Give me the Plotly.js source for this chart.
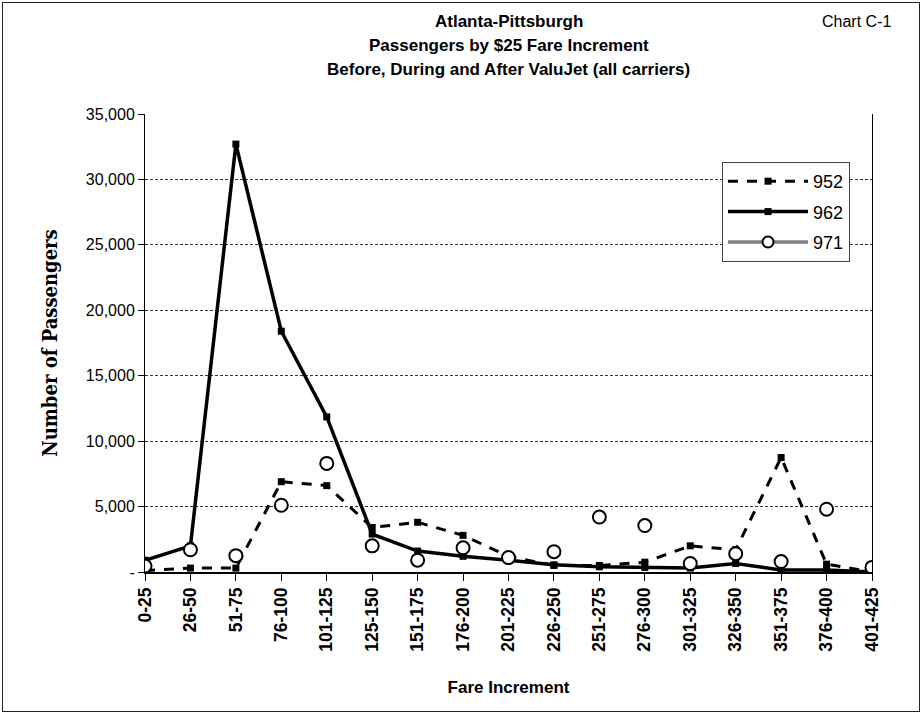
<!DOCTYPE html>
<html>
<head>
<meta charset="utf-8">
<script src="https://cdn.plot.ly/plotly-3.0.1.min.js"></script>
<style>
  html, body { margin: 0; padding: 0; background: #fff; }
  #wrap { position: relative; width: 922px; height: 714px; }
  #chart { width: 922px; height: 714px; }
  #frame { position: absolute; left: 2px; top: 2px; width: 916px; height: 708px; border: 1px solid #222; pointer-events: none; }
</style>
</head>
<body>
<div id="wrap">
  <div id="chart"></div>
  <div id="frame"></div>
</div>
<script>
// Fare increments (categories)
const categories = ["0-25","26-50","51-75","76-100","101-125","125-150","151-175","176-200","201-225","226-250","251-275","276-300","301-325","326-350","351-375","376-400","401-425"];

// Number of passengers by period
const s952 = [100, 300, 300, 6900, 6600, 3400, 3800, 2800, 1200, 500, 500, 750, 2000, 1700, 8750, 600, 0];
const s962 = [900, 2000, 32700, 18400, 11850, 2900, 1600, 1200, 900, 550, 400, 350, 300, 650, 150, 150, 0];
const s971 = [450, 1700, 1250, 5100, 8300, 2000, 900, 1850, 1100, 1550, 4200, 3550, 650, 1400, 800, 4800, 350];

// Y-axis ticks
const yTickVals = [0, 5000, 10000, 15000, 20000, 25000, 30000, 35000];
const yTickText = ["-", "5,000", "10,000", "15,000", "20,000", "25,000", "30,000", "35,000"];

// Title lines
const titleLines = ["Atlanta-Pittsburgh", "Passengers by $25 Fare Increment", "Before, During and After ValuJet (all carriers)"];

const traces = [
  {
    x: categories, y: s952, name: "952", type: "scatter", mode: "lines+markers",
    line: { color: "#000", width: 3, dash: "10px,9px" },
    marker: { symbol: "square", size: 7, color: "#000" }
  },
  {
    x: categories, y: s962, name: "962", type: "scatter", mode: "lines+markers",
    line: { color: "#000", width: 3.5 },
    marker: { symbol: "square", size: 7, color: "#000" }
  },
  {
    x: categories, y: s971, name: "971", type: "scatter", mode: "markers",
    showlegend: false, legendgroup: "g971",
    marker: { symbol: "circle", size: 13, color: "#fff", line: { color: "#000", width: 2 } }
  },
  {
    x: [null], y: [null], name: "971", type: "scatter", mode: "lines+markers",
    legendgroup: "g971", hoverinfo: "skip",
    line: { color: "#808080", width: 3.5 },
    marker: { symbol: "circle", size: 11, color: "#fff", line: { color: "#000", width: 2 } }
  }
];

const F = "Liberation Sans, Arial, sans-serif";
const titleY = [1.2009, 1.1485, 1.0961];
const annotations = titleLines.map((t, i) => ({
  text: "<b>" + t + "</b>", xref: "paper", yref: "paper", x: 0.5, y: titleY[i],
  xanchor: "center", yanchor: "middle", showarrow: false,
  font: { size: 17, family: F, color: "#000" }
}));
annotations.push({
  text: "Chart C-1", xref: "paper", yref: "paper", x: 1.0289, y: 1.2009,
  xanchor: "right", yanchor: "middle", showarrow: false,
  font: { size: 16, family: F, color: "#000" }
});

const layout = {
  width: 922, height: 714,
  paper_bgcolor: "#fff", plot_bgcolor: "#fff",
  margin: { l: 145, r: 50, t: 114, b: 142 },
  font: { family: F, color: "#000" },
  showlegend: true,
  legend: {
    x: 0.7937, xanchor: "left", y: 0.8952, yanchor: "top",
    bgcolor: "#fff", bordercolor: "#444", borderwidth: 1,
    font: { size: 18, family: F, color: "#000" },
    itemwidth: 80, tracegroupgap: 4, traceorder: "grouped"
  },
  xaxis: {
    type: "category",
    tickangle: -90,
    tickfont: { family: F, size: 17.5, color: "#000", weight: "bold" },
    ticks: "outside", ticklen: 7, tickcolor: "#000", tickwidth: 1,
    showline: true, linecolor: "#000", linewidth: 1.5,
    showgrid: false, zeroline: false,
    range: [0, 16],
    title: { text: "<b>Fare Increment</b>", font: { size: 17, family: F, color: "#000" }, standoff: 30 }
  },
  yaxis: {
    range: [0, 35000],
    tickvals: yTickVals, ticktext: yTickText,
    tickfont: { size: 16, family: F, color: "#000" },
    ticks: "outside", ticklen: 6, tickcolor: "#000",
    showline: true, linecolor: "#000", linewidth: 1, mirror: true,
    showgrid: true, gridcolor: "#333", gridwidth: 1, griddash: "3px,2px",
    zeroline: false,
    title: { text: "<b>Number of Passengers</b>", font: { size: 20, family: "DejaVu Serif Condensed, DejaVu Serif, serif", color: "#000" }, standoff: 22 }
  },
  annotations: annotations
};

Plotly.newPlot("chart", traces, layout, { displayModeBar: false, staticPlot: true });
</script>
</body>
</html>
